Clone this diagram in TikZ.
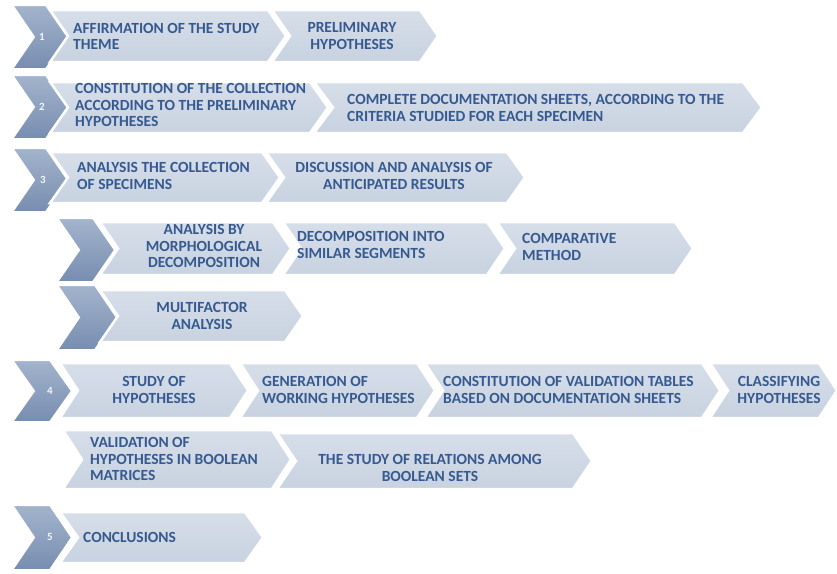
\documentclass[tikz,border=0pt]{standalone}
\usepackage{fontspec}
\setmainfont{Carlito}
\definecolor{txtblue}{HTML}{365A90}
\definecolor{lighttop}{HTML}{D6DEE9}
\definecolor{lightbot}{HTML}{C8D2E0}
\definecolor{darktop}{HTML}{A3B4CC}
\definecolor{darkbot}{HTML}{778DB0}
\definecolor{numcol}{HTML}{F2F5F9}
\newcommand\chevshape[6]{%
  \path[#6] (#1,#3) -- (#2,#3) -- ({#2+#5},{(#3+#4)/2}) -- (#2,#4) -- (#1,#4) -- ({#1+#5},{(#3+#4)/2}) -- cycle;}
\tikzset{
  darkchev/.style={top color=darktop, bottom color=darkbot, draw=white, line width=2pt},
  lightchev/.style={top color=lighttop, bottom color=lightbot, draw=white, line width=2.5pt},
  lbl/.style={text=txtblue, font=\bfseries\fontsize{15.5}{16.8}\selectfont, inner sep=0pt},
  lbll/.style={lbl, anchor=west, align=left},
  lblc/.style={lbl, align=center},
  numlbl/.style={text=numcol, font=\bfseries\fontsize{11}{13}\selectfont, inner sep=0pt}
}
\begin{document}
\begin{tikzpicture}[x=1pt,y=-1pt]
\useasboundingbox[fill=white] (0,0) rectangle (837,573);
% dark chevrons
\chevshape{12}{46}{5}{69}{22}{darkchev}
\chevshape{12}{46}{75}{139}{22}{darkchev}
\chevshape{12}{46}{148}{212}{22}{darkchev}
\chevshape{57}{93}{218}{282}{22}{darkchev}
\chevshape{57}{95}{285}{350}{22}{darkchev}
\chevshape{12}{50}{360}{422}{22}{darkchev}
\chevshape{12}{50}{505}{570}{22}{darkchev}
\node[numlbl] (n1) at (42,37) {1};
\node[numlbl] (n2) at (42,107) {2};
\node[numlbl] (n3) at (43,180) {3};
\node[numlbl] (n4) at (50,391) {4};
\node[numlbl] (n5) at (50,537) {5};
% row 1
\chevshape{50}{268}{10}{62}{18}{lightchev}
\chevshape{272}{420}{10}{62}{18}{lightchev}
% row 2
\chevshape{50}{310}{82}{133}{18}{lightchev}
\chevshape{314}{743}{82}{133}{19}{lightchev}
% row 3
\chevshape{50}{262}{152}{203}{18}{lightchev}
\chevshape{266}{507}{152}{203}{18}{lightchev}
% row 3a
\chevshape{100}{273}{222}{275}{18}{lightchev}
\chevshape{283}{487}{222}{275}{18}{lightchev}
\chevshape{497}{675}{222}{275}{18}{lightchev}
% row 3b
\chevshape{100}{285}{290}{342}{18}{lightchev}
% row 4
\chevshape{60}{230}{363}{418}{18}{lightchev}
\chevshape{240}{417}{363}{418}{18}{lightchev}
\chevshape{425}{702}{363}{418}{18}{lightchev}
\chevshape{710}{819}{363}{418}{18}{lightchev}
% row 4b
\chevshape{63}{272}{430}{489}{19}{lightchev}
\chevshape{277}{573}{433}{489}{19}{lightchev}
% row 5
\chevshape{60}{245}{512}{563}{18}{lightchev}
% texts
\node[lbll] (t1a) at (73,36.5) {AFFIRMATION OF THE STUDY\\THEME};
\node[lblc] (t1b) at (352,36) {PRELIMINARY\\HYPOTHESES};
\node[lbll] (t2a) at (75,105) {CONSTITUTION OF THE COLLECTION\\ACCORDING TO THE PRELIMINARY\\HYPOTHESES};
\node[lbll] (t2b) at (347,108) {COMPLETE DOCUMENTATION SHEETS, ACCORDING TO THE\\CRITERIA STUDIED FOR EACH SPECIMEN};
\node[lbll] (t3a) at (77,176) {ANALYSIS THE COLLECTION\\OF SPECIMENS};
\node[lblc] (t3b) at (394,176) {DISCUSSION AND ANALYSIS OF\\ANTICIPATED RESULTS};
\node[lblc] (t3aa) at (204,246) {ANALYSIS BY\\MORPHOLOGICAL\\DECOMPOSITION};
\node[lbll] (t3ab) at (297,245) {DECOMPOSITION INTO\\SIMILAR SEGMENTS};
\node[lbll] (t3ac) at (522,247) {COMPARATIVE\\METHOD};
\node[lblc] (t3ba) at (202,316) {MULTIFACTOR\\ANALYSIS};
\node[lblc] (t4a) at (154,390) {STUDY OF\\HYPOTHESES};
\node[lbll] (t4b) at (262,390) {GENERATION OF\\WORKING HYPOTHESES};
\node[lbll] (t4c) at (443,390) {CONSTITUTION OF VALIDATION TABLES\\BASED ON DOCUMENTATION SHEETS};
\node[lblc] (t4d) at (779,390) {CLASSIFYING\\HYPOTHESES};
\node[lbll] (t4e) at (90,459) {VALIDATION OF\\HYPOTHESES IN BOOLEAN\\MATRICES};
\node[lblc] (t4f) at (430,468) {THE STUDY OF RELATIONS AMONG\\BOOLEAN SETS};
\node[lbll] (t5) at (83,537) {CONCLUSIONS};
\end{tikzpicture}
\end{document}
